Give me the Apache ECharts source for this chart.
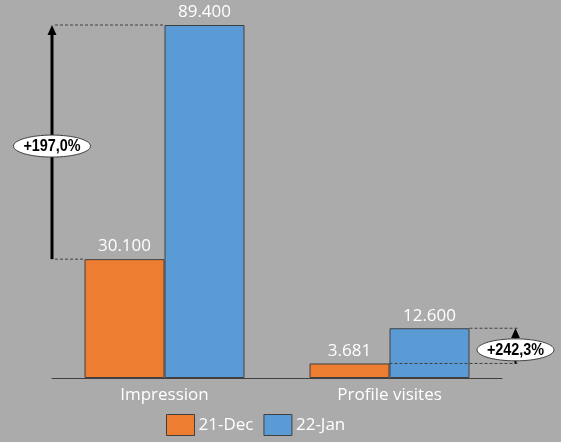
<!DOCTYPE html>
<html><head><meta charset="utf-8">
<script src="https://cdn.jsdelivr.net/npm/echarts@6/dist/echarts.min.js"></script>
<style>html,body{margin:0;padding:0;background:#ababab}#c{width:561px;height:442px}</style>
</head><body><div id="c"></div>
<script>
const categories = ['Impression', 'Profile visites'];
const seriesNames = ['21-Dec', '22-Jan'];
const dec21 = [30100, 3681];
const jan22 = [89400, 12600];

const FONT = 'Open Sans';
const fmt = v => String(v).replace(/\B(?=(\d{3})+(?!\d))/g, '.');
const pct = (a, b) => '+' + ((b - a) / a * 100).toFixed(1).replace('.', ',') + '%';

const chart = echarts.init(document.getElementById('c'), null, {renderer: 'canvas'});
const barStyle = c => ({color: c, borderColor: '#404040', borderWidth: 1});
chart.setOption({
  animation: false,
  backgroundColor: '#ababab',
  grid: {left: 52, right: 59, top: 25, bottom: 64},
  xAxis: {
    type: 'category', data: categories,
    axisLine: {lineStyle: {color: '#404040', width: 1}},
    axisTick: {show: false},
    axisLabel: {color: '#ffffff', fontSize: 17, fontFamily: FONT, margin: 9}
  },
  yAxis: {type: 'value', min: 0, max: 89400, show: false, splitLine: {show: false}},
  legend: {
    left: 166, top: 414, padding: 0, itemWidth: 28, itemHeight: 21, itemGap: 10,
    icon: 'rect',
    itemStyle: {borderColor: '#404040', borderWidth: 1},
    textStyle: {color: '#ffffff', fontSize: 17, fontFamily: FONT, padding: [0, 0, 0, -1]},
    data: seriesNames
  },
  series: [
    {name: seriesNames[0], type: 'bar', data: dec21, barWidth: 80, barGap: '0%',
     itemStyle: barStyle('#ed7d31'),
     label: {show: true, position: 'top', distance: 4, color: '#ffffff', fontSize: 17, fontFamily: FONT, formatter: p => fmt(p.value)}},
    {name: seriesNames[1], type: 'bar', data: jan22, barWidth: 80, barGap: '0%',
     itemStyle: barStyle('#5b9bd5'),
     label: {show: true, position: 'top', distance: 4, color: '#ffffff', fontSize: 17, fontFamily: FONT, formatter: p => fmt(p.value)}}
  ]
});

function px(i, v) { return chart.convertToPixel({gridIndex: 0}, [i, v]); }
const dash = {stroke: '#404040', lineWidth: 1, lineDash: [3, 2]};
const els = [];
function annot(i, ax, topX, botX, lw) {
  const yT = px(i, jan22[i])[1];
  const yB = px(i, dec21[i])[1];
  els.push({type: 'line', z: 100, shape: {x1: topX[0], y1: yT, x2: topX[1], y2: yT}, style: dash});
  els.push({type: 'line', z: 100, shape: {x1: botX[0], y1: yB, x2: botX[1], y2: yB}, style: dash});
  els.push({type: 'line', z: 101, shape: {x1: ax, y1: yB, x2: ax, y2: yT + 8}, style: {stroke: '#000', lineWidth: lw}});
  els.push({type: 'polygon', z: 101, shape: {points: [[ax, yT], [ax - 4.5, yT + 10], [ax + 4.5, yT + 10]]}, style: {fill: '#000'}});
  const cy = (yT + yB) / 2 + 4;
  els.push({type: 'ellipse', z: 102, shape: {cx: ax, cy: cy, rx: 38.5, ry: 11}, style: {fill: '#ffffff', stroke: '#404040', lineWidth: 1}});
  els.push({type: 'text', z: 103, x: ax, y: cy + 0.5, scaleX: 0.9, style: {text: pct(dec21[i], jan22[i]), fill: '#000',
    font: 'bold 16px "Liberation Sans", Arial, sans-serif', align: 'center', verticalAlign: 'middle'}});
}
const c0 = px(0, 0)[0], c1 = px(1, 0)[0];
const half = (c1 - c0) / 2;
const axL = c0 - half;
annot(0, axL, [axL + 3, c0], [axL + 3, c0 - 80], 3);
const axR = c1 + 80 + 46;
annot(1, axR, [c1 + 80, axR + 4], [c1, axR + 4], 2);
chart.setOption({graphic: {elements: els}});
</script>
</body></html>
